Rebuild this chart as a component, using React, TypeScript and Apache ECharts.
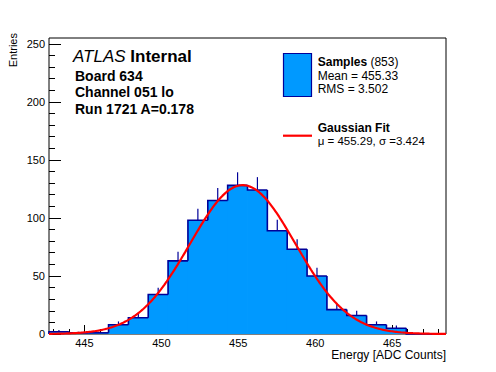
import React, { useEffect, useRef } from "react";
import * as echarts from "echarts";

// ---- data ----
const X_MIN = 442.7;
const X_MAX = 468.5;
const BIN_COUNTS = [2, 1, 1, 8, 14, 34, 63, 98, 115, 128, 124, 89, 73, 50, 21, 16, 8, 5, 0, 0];
const X_MAJOR_TICKS = [445, 450, 455, 460, 465];
const X_MINOR_TICKS = [443, 444, 446, 447, 448, 449, 451, 452, 453, 454, 456, 457, 458, 459, 461, 462, 463, 464, 466, 467, 468];
const Y_MAX = 255;
const Y_MAJOR_TICKS = [0, 50, 100, 150, 200, 250];
const Y_MINOR_TICKS = [10, 20, 30, 40, 60, 70, 80, 90, 110, 120, 130, 140, 160, 170, 180, 190, 210, 220, 230, 240];
const N_SAMPLES = 853;
const SAMPLE_MEAN = "455.33";
const SAMPLE_RMS = "3.502";
const FIT_MU = 455.29;
const FIT_SIGMA = 3.424;

const FILL = "#0099ff";
const EDGE = "#000099";
const FONT = "'Liberation Sans', Arial, Helvetica, sans-serif";

export default function App() {
  const ref = useRef<HTMLDivElement>(null);

  useEffect(() => {
    document.body.style.margin = "0";
    const chart = echarts.init(ref.current!, undefined, { renderer: "svg" });

    const nBins = BIN_COUNTS.length;
    const binW = (X_MAX - X_MIN) / nBins;
    const histData = BIN_COUNTS.map((v, i) => [
      X_MIN + i * binW,
      X_MIN + (i + 1) * binW,
      v,
      i === 0 ? 0 : BIN_COUNTS[i - 1],
    ]);

    const amp = (N_SAMPLES * binW) / (FIT_SIGMA * Math.sqrt(2 * Math.PI));
    const fitData: number[][] = [];
    const steps = 300;
    for (let k = 0; k <= steps; k++) {
      const x = X_MIN + ((X_MAX - X_MIN) * k) / steps;
      const z = (x - FIT_MU) / FIT_SIGMA;
      fitData.push([x, amp * Math.exp(-0.5 * z * z)]);
    }

    const noLine = { show: false };
    const option: any = {
      animation: false,
      backgroundColor: "#ffffff",
      grid: {
        left: 49,
        top: 38,
        right: 50,
        bottom: 38,
        show: true,
        borderColor: "#000",
        borderWidth: 1,
        backgroundColor: "#fff",
      },
      xAxis: [
        {
          type: "value",
          min: X_MIN,
          max: X_MAX,
          axisLine: noLine,
          splitLine: noLine,
          axisTick: { show: true, inside: true, length: 9, customValues: X_MAJOR_TICKS, lineStyle: { color: "#000", width: 1 } },
          axisLabel: { customValues: X_MAJOR_TICKS, color: "#000", fontSize: 11, fontFamily: FONT, margin: 3 },
        },
        {
          type: "value",
          min: X_MIN,
          max: X_MAX,
          position: "bottom",
          axisLine: noLine,
          splitLine: noLine,
          axisTick: { show: true, inside: true, length: 5, customValues: X_MINOR_TICKS, lineStyle: { color: "#000", width: 1 } },
          axisLabel: { show: false },
        },
      ],
      yAxis: [
        {
          type: "value",
          min: 0,
          max: Y_MAX,
          axisLine: noLine,
          splitLine: noLine,
          axisTick: { show: true, inside: true, length: 12, customValues: Y_MAJOR_TICKS, lineStyle: { color: "#000", width: 1 } },
          axisLabel: { customValues: Y_MAJOR_TICKS, color: "#000", fontSize: 11, fontFamily: FONT, margin: 4 },
        },
        {
          type: "value",
          min: 0,
          max: Y_MAX,
          position: "left",
          axisLine: noLine,
          splitLine: noLine,
          axisTick: { show: true, inside: true, length: 6, customValues: Y_MINOR_TICKS, lineStyle: { color: "#000", width: 1 } },
          axisLabel: { show: false },
        },
      ],
      series: [
        {
          type: "custom",
          xAxisIndex: 0,
          yAxisIndex: 0,
          data: histData,
          encode: { x: [0, 1], y: 2 },
          renderItem: (params: any, api: any) => {
            const x0 = api.value(0);
            const x1 = api.value(1);
            const v = api.value(2);
            const prev = api.value(3);
            const pBase = api.coord([x0, 0]);
            const pTop = api.coord([x1, v]);
            const pLeftTop = api.coord([x0, v]);
            const pPrev = api.coord([x0, prev]);
            const children: any[] = [];
            if (v > 0) {
              children.push({
                type: "rect",
                shape: { x: pBase[0] - 0.4, y: pTop[1], width: pTop[0] - pBase[0] + 0.8, height: pBase[1] - pTop[1] },
                style: { fill: FILL },
              });
              const cx = (x0 + x1) / 2;
              const e1 = api.coord([cx, v]);
              const e2 = api.coord([cx, v + Math.sqrt(v)]);
              children.push({
                type: "line",
                shape: { x1: e1[0], y1: e1[1], x2: e2[0], y2: e2[1] },
                style: { stroke: EDGE, lineWidth: 1.2 },
                z2: 5,
              });
            }
            children.push({
              type: "polyline",
              shape: { points: [pPrev, pLeftTop, pTop] },
              style: { stroke: EDGE, fill: null, lineWidth: 1.6 },
              z2: 5,
            });
            return { type: "group", children };
          },
          z: 2,
        },
        {
          type: "line",
          xAxisIndex: 0,
          yAxisIndex: 0,
          data: fitData,
          showSymbol: false,
          symbol: "none",
          smooth: false,
          lineStyle: { color: "#ff0000", width: 2.2 },
          z: 3,
        },
      ],
      graphic: [
        {
          type: "text",
          x: 73,
          y: 56,
          style: {
            text: "{i|ATLAS} {b|Internal}",
            verticalAlign: "middle",
            rich: {
              i: { fontStyle: "italic", fontSize: 17, fontFamily: FONT, fill: "#000" },
              b: { fontWeight: "bold", fontSize: 17, fontFamily: FONT, fill: "#000" },
            },
            font: `17px ${FONT}`,
            fill: "#000",
          },
          z: 10,
        },
        { type: "text", x: 75, y: 75.8, style: { text: "Board 634", font: `bold 14px ${FONT}`, fill: "#000", verticalAlign: "middle" }, z: 10 },
        { type: "text", x: 75, y: 92.4, style: { text: "Channel 051 lo", font: `bold 14px ${FONT}`, fill: "#000", verticalAlign: "middle" }, z: 10 },
        { type: "text", x: 75, y: 109.1, style: { text: "Run 1721 A=0.178", font: `bold 14px ${FONT}`, fill: "#000", verticalAlign: "middle" }, z: 10 },
        {
          type: "rect",
          shape: { x: 283.5, y: 53.5, width: 28, height: 43 },
          style: { fill: FILL, stroke: EDGE, lineWidth: 1.2 },
          z: 10,
        },
        {
          type: "text",
          x: 317.7,
          y: 61.5,
          style: {
            text: `{b|Samples} {n|(${N_SAMPLES})}`,
            verticalAlign: "middle",
            rich: {
              b: { fontWeight: "bold", fontSize: 12, fontFamily: FONT, fill: "#000" },
              n: { fontSize: 12, fontFamily: FONT, fill: "#000" },
            },
            font: `12px ${FONT}`,
          },
          z: 10,
        },
        { type: "text", x: 317.7, y: 75.8, style: { text: `Mean = ${SAMPLE_MEAN}`, font: `12px ${FONT}`, fill: "#000", verticalAlign: "middle" }, z: 10 },
        { type: "text", x: 317.7, y: 89.1, style: { text: `RMS = ${SAMPLE_RMS}`, font: `12px ${FONT}`, fill: "#000", verticalAlign: "middle" }, z: 10 },
        {
          type: "line",
          shape: { x1: 283, y1: 135.7, x2: 312, y2: 135.7 },
          style: { stroke: "#ff0000", lineWidth: 2.2 },
          z: 10,
        },
        { type: "text", x: 317.7, y: 127.5, style: { text: "Gaussian Fit", font: `bold 12px ${FONT}`, fill: "#000", verticalAlign: "middle" }, z: 10 },
        {
          type: "text",
          x: 317.7,
          y: 141,
          style: { text: `\u03bc = ${FIT_MU.toFixed(2)}, \u03c3 =${FIT_SIGMA.toFixed(3)}`, font: `11.5px ${FONT}`, fill: "#000", verticalAlign: "middle" },
          z: 10,
        },
        {
          type: "text",
          x: 446,
          y: 354.8,
          style: { text: "Energy [ADC Counts]", font: `12px ${FONT}`, fill: "#000", align: "right", verticalAlign: "middle" },
          z: 10,
        },
        {
          type: "text",
          x: 13,
          y: 33,
          rotation: Math.PI / 2,
          style: { text: "Entries", font: `11px ${FONT}`, fill: "#000", align: "right", verticalAlign: "middle" },
          z: 10,
        },
      ],
    };

    chart.setOption(option);
    return () => chart.dispose();
  }, []);

  return <div ref={ref} style={{ position: "absolute", left: 0, top: 0, width: 496, height: 372 }} />;
}
